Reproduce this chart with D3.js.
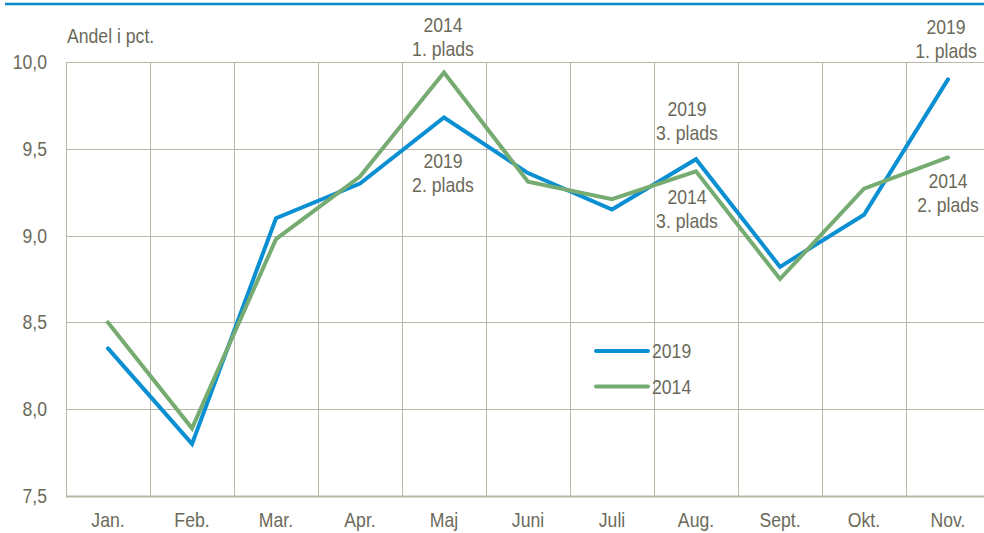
<!DOCTYPE html>
<html>
<head>
<meta charset="utf-8">
<script src="https://cdn.jsdelivr.net/npm/d3@7"></script>
<style>
  body { margin: 0; background: #fff; }
  svg { display: block; font-family: "Liberation Sans Narrow", "Arial Narrow", "Liberation Sans", sans-serif; }
</style>
</head>
<body>
<svg width="984" height="533"></svg>
<script>
// Data
const months = ["Jan.", "Feb.", "Mar.", "Apr.", "Maj", "Juni", "Juli", "Aug.", "Sept.", "Okt.", "Nov."];
const values2019 = [8.35, 7.80, 9.10, 9.30, 9.68, 9.36, 9.15, 9.44, 8.82, 9.12, 9.90];
const values2014 = [8.50, 7.89, 8.98, 9.34, 9.94, 9.31, 9.21, 9.37, 8.75, 9.27, 9.45];
const yTicks = [7.5, 8.0, 8.5, 9.0, 9.5, 10.0];
const seriesNames = ["2019", "2014"];
const seriesColors = ["#0a8fd2", "#76ab71"];

// annotations: [month, lines, dx, y of first baseline]
const notes = [
  ["Maj", ["2014", "1. plads"], -1, 32],
  ["Maj", ["2019", "2. plads"], -1, 168],
  ["Aug.", ["2019", "3. plads"], -9, 116],
  ["Aug.", ["2014", "3. plads"], -9, 204],
  ["Nov.", ["2019", "1. plads"], -2, 34],
  ["Nov.", ["2014", "2. plads"], 0, 188]
];

const textColor = "#6b6a5a";
const gridColor = "#b9b7a8";
const fontSize = "20.5px";
const narrow = 0.86; // no narrow font installed, squeeze horizontally

// squeeze a text element around its own x so the anchor stays put
function condense(sel) {
  sel.each(function() {
    const tx = +(this.getAttribute("x") || 0);
    d3.select(this).attr("transform", `translate(${tx},0) scale(${narrow},1) translate(${-tx},0)`);
  });
}

const svg = d3.select("svg");
const margin = { top: 62, left: 66, bottom: 496 };

const x = d3.scaleBand()
  .domain(months)
  .range([margin.left, margin.left + 84 * months.length]);

const y = d3.scaleLinear()
  .domain([7.5, 10])
  .range([margin.bottom, margin.top]);

// top blue rule
svg.append("line")
  .attr("x1", 5).attr("x2", 984)
  .attr("y1", 4).attr("y2", 4)
  .attr("stroke", "#0a87c8")
  .attr("stroke-width", 2.5);

// horizontal grid
svg.append("g")
  .selectAll("line")
  .data(yTicks)
  .join("line")
    .attr("x1", margin.left).attr("x2", 984)
    .attr("y1", d => Math.round(y(d)) + 0.5)
    .attr("y2", d => Math.round(y(d)) + 0.5)
    .attr("stroke", gridColor)
    .attr("stroke-width", d => d === 7.5 ? 2 : 1);

// vertical grid at band boundaries
svg.append("g")
  .selectAll("line")
  .data(months)
  .join("line")
    .attr("x1", d => Math.round(x(d)) + 0.5)
    .attr("x2", d => Math.round(x(d)) + 0.5)
    .attr("y1", margin.top).attr("y2", margin.bottom)
    .attr("stroke", gridColor)
    .attr("stroke-width", 1);

// y axis labels
const yAxis = svg.append("g")
  .attr("transform", `translate(${margin.left},0)`)
  .call(d3.axisLeft(y).tickValues(yTicks).tickSize(0).tickPadding(19)
    .tickFormat(d => d3.format(".1f")(d).replace(".", ",")));
yAxis.select(".domain").remove();
yAxis.selectAll("text")
  .attr("fill", textColor)
  .style("font-size", fontSize)
  .style("font-family", null)
  .call(condense);

// x axis labels
const xAxis = svg.append("g")
  .attr("transform", `translate(0,${margin.bottom})`)
  .call(d3.axisBottom(x).tickSize(0).tickPadding(16));
xAxis.select(".domain").remove();
xAxis.selectAll("text")
  .attr("fill", textColor)
  .style("font-size", fontSize)
  .style("font-family", null)
  .call(condense);

// unit label
svg.append("text")
  .attr("x", 67).attr("y", 43)
  .attr("fill", textColor)
  .style("font-size", fontSize)
  .text("Andel i pct.")
  .call(condense);

// lines
const line = d3.line()
  .x((d, i) => x(months[i]) + x.bandwidth() / 2)
  .y(d => y(d));

[values2019, values2014].forEach((vals, k) => {
  svg.append("path")
    .datum(vals)
    .attr("fill", "none")
    .attr("stroke", seriesColors[k])
    .attr("stroke-width", 4)
    .attr("stroke-linejoin", "miter")
    .attr("stroke-linecap", "round")
    .attr("d", line);
});

// annotations
notes.forEach(([m, lines, dx, y0]) => {
  const cx = x(m) + x.bandwidth() / 2 + dx;
  const t = svg.append("text")
    .attr("x", cx)
    .attr("text-anchor", "middle")
    .attr("fill", textColor)
    .style("font-size", fontSize);
  lines.forEach((s, i) => {
    t.append("tspan")
      .attr("x", cx)
      .attr("y", y0 + i * 24)
      .text(s);
  });
  t.call(condense);
});

// legend
const legend = svg.append("g");
seriesNames.forEach((name, k) => {
  const ly = 351 + k * 35.5;
  legend.append("line")
    .attr("x1", 596).attr("x2", 648)
    .attr("y1", ly).attr("y2", ly)
    .attr("stroke", seriesColors[k])
    .attr("stroke-width", 4)
    .attr("stroke-linecap", "round");
  legend.append("text")
    .attr("x", 652).attr("y", ly)
    .attr("dy", "0.35em")
    .attr("fill", textColor)
    .style("font-size", fontSize)
    .text(name)
    .call(condense);
});
</script>
</body>
</html>
